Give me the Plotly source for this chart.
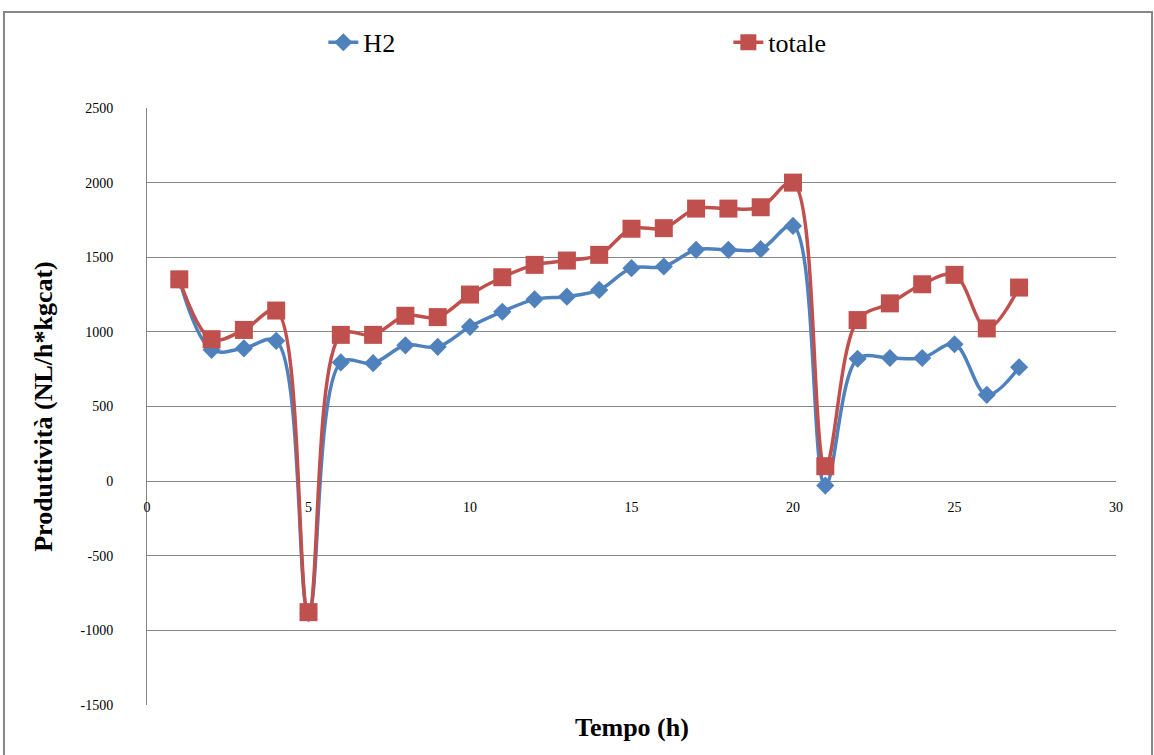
import plotly.graph_objects as go

# ore
tempo = list(range(1, 28))

h2 = [1350, 880, 890, 940, -885, 795, 790, 910, 900, 1034, 1135, 1218, 1236, 1281,
      1427, 1438, 1550, 1550, 1554, 1710, -30, 820, 825, 825, 917, 578, 763]

totale = [1352, 951, 1013, 1143, -878, 980, 980, 1108, 1099, 1250, 1366, 1449, 1478, 1516,
          1691, 1695, 1826, 1826, 1835, 2000, 100, 1079, 1191, 1319, 1382, 1023, 1297]

x_ticks = [0, 5, 10, 15, 20, 25, 30]
y_ticks = [-1500, -1000, -500, 0, 500, 1000, 1500, 2000, 2500]
y_labels = [str(v) for v in y_ticks]  # plain hyphen, like Excel

blue = "#4F81BD"
red = "#C0504D"
serif = "Liberation Serif"

fig = go.Figure()
fig.add_trace(go.Scatter(
    x=tempo, y=h2, name="H2", mode="lines+markers",
    line=dict(color=blue, width=3.5, shape="spline", smoothing=1.0),
    marker=dict(symbol="diamond", size=14, color=blue),
))
fig.add_trace(go.Scatter(
    x=tempo, y=totale, name="totale", mode="lines+markers",
    line=dict(color=red, width=3.5, shape="spline", smoothing=1.0),
    marker=dict(symbol="square", size=18, color=red),
))

y_min, y_max = -1500, 2500

fig.update_layout(
    width=1154, height=755,
    margin=dict(l=147, r=38, t=108, b=50),
    paper_bgcolor="white",
    plot_bgcolor="white",
    font=dict(family=serif, color="black"),
    showlegend=True,
    legend=dict(
        orientation="h",
        x=0.182, xanchor="left",
        y=1.11, yanchor="middle",
        font=dict(size=26, family=serif),
        entrywidth=360, entrywidthmode="pixels",
        bgcolor="rgba(0,0,0,0)",
    ),
    xaxis=dict(
        range=[0, 30],
        tickvals=x_ticks,
        showgrid=False,
        zeroline=False,
        showline=False,
        anchor="free",
        # keep the labels beside the value 0 as in the original
        position=(0 - y_min) / (y_max - y_min),
        ticks="",
        ticklabelstandoff=16,
        tickfont=dict(size=14, family=serif),
    ),
    yaxis=dict(
        range=[y_min, y_max],
        tickvals=y_ticks,
        ticktext=y_labels,
        showgrid=True,
        gridcolor="#868686",
        gridwidth=1,
        zeroline=False,
        showline=True,
        linecolor="#868686",
        linewidth=1,
        ticks="",
        ticklabelstandoff=30,
        tickfont=dict(size=14, family=serif),
        title=dict(
            text="<b>Produttività (NL/h*kgcat)</b>",
            font=dict(size=26, family=serif),
            standoff=20,
        ),
    ),
    annotations=[dict(
        text="<b>Tempo (h)</b>",
        x=0.5, xref="paper", xanchor="center",
        y=-0.037, yref="paper", yanchor="middle",
        showarrow=False,
        font=dict(size=26, family=serif),
    )],
    shapes=[dict(
        type="rect", xref="paper", yref="paper",
        x0=-0.1476, x1=1.0372, y0=-0.09, y1=1.161,
        line=dict(color="#868686", width=2),
        layer="below",
    )],
)

fig.write_html("out.html", config={"displayModeBar": False},
               post_script="document.body.style.margin='0';")
